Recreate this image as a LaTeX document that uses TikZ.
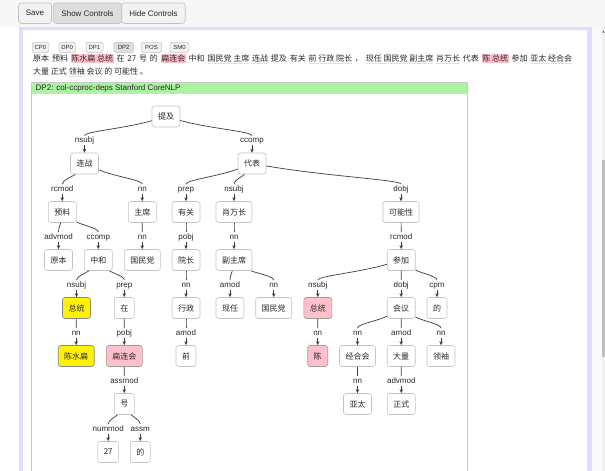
\documentclass[tikz,border=0pt]{standalone}
\usepackage{fontspec}
\setmainfont{Liberation Sans}
\newfontfamily\cjk{Noto Sans CJK SC}
\usetikzlibrary{arrows.meta,calc}

\definecolor{lav}{RGB}{221,221,255}
\definecolor{hdr}{RGB}{170,243,160}
\definecolor{pinkhl}{RGB}{255,192,203}
\definecolor{edgec}{RGB}{60,60,60}
\definecolor{boxb}{RGB}{195,195,195}
\definecolor{txt}{RGB}{40,40,40}
\definecolor{topbg}{RGB}{247,247,247}
\definecolor{btn}{RGB}{242,242,242}
\definecolor{btnon}{RGB}{222,222,222}
\definecolor{panelb}{RGB}{200,200,200}
\definecolor{ulc}{RGB}{225,225,225}

\newcommand{\hlw}[1]{{\setlength{\fboxsep}{0.6pt}\colorbox{pinkhl}{#1}}}
\newcommand{\ulg}[1]{{\setbox0\hbox{#1}\rlap{\color{ulc}\rule[-2.2pt]{\wd0}{1pt}}\box0}}
\newcommand{\dep}[4]{%
  \node[rel] (#3) at ($(#2.center)+(0,-23)$) {#4};
  \draw[arc] (#1) .. controls ($(#1.center)!0.5!(#3.center)$) and ($(#3.center)+(0,-9)$) .. (#3);
  \draw[arr] (#3) -- (#2);
}

\tikzset{
  tok/.style={draw=boxb, rounded corners=2.5pt, fill=white, font=\cjk\fontsize{8}{9}\selectfont,
    text=txt, minimum height=21pt, inner xsep=6pt, inner ysep=0pt, line width=0.6pt},
  tokY/.style={tok, fill=yellow, draw=boxb!70!black},
  tokP/.style={tok, fill=pinkhl, draw=boxb!80!black},
  rel/.style={font=\fontsize{8}{9}\selectfont, text=txt, inner sep=1pt, text height=5.8pt, text depth=1.6pt},
  arc/.style={draw=edgec, line width=0.7pt},
  arr/.style={arc, -{Stealth[length=4pt,width=3.4pt]}},
  bigbtn/.style={draw=boxb, fill=btn, rounded corners=3pt, font=\fontsize{8}{9}\selectfont, text=txt,
    minimum height=20.5pt, inner sep=0pt, line width=0.6pt},
  smbtn/.style={draw=boxb, fill=btn, rounded corners=1.5pt, font=\fontsize{6}{7}\selectfont, text=txt,
    minimum height=10pt, inner sep=0pt, line width=0.5pt},
}

\begin{document}
\begin{tikzpicture}[x=1pt,y=-1pt]
\useasboundingbox (0,0) rectangle (605,471);
\fill[white] (0,0) rectangle (605,471);
% top bar
\fill[topbg] (0,0) rectangle (605,27);
\node[bigbtn, minimum width=33pt] (save) at (35,13.2) {Save};
\node[bigbtn, fill=btnon, minimum width=68.5pt] (show) at (87.5,13.2) {Show Controls};
\node[bigbtn, minimum width=63.5pt] (hide) at (153.5,13.2) {Hide Controls};
% lavender frame
\fill[lav] (19,27) rectangle (592,471);
\fill[white] (23,29.5) rectangle (587,471);
\fill[topbg!60!white] (592,27) rectangle (605,471);
% scrollbar
\fill[black!6] (601.7,27) rectangle (605,471);
\fill[black!25] (602,160) rectangle (605,357);
\fill[black!60] (602.3,32.5) -- (603.4,30.5) -- (604.5,32.5) -- cycle;
% small buttons
\node[smbtn, minimum width=16.5pt] (cp0) at (40.5,47.3) {CP0};
\node[smbtn, minimum width=16.5pt] (dp0) at (67.2,47.3) {DP0};
\node[smbtn, minimum width=17pt] (dp1) at (94.5,47.3) {DP1};
\node[smbtn, fill=btnon, minimum width=19.5pt] (dp2) at (123.7,47.3) {DP2};
\node[smbtn, minimum width=20pt] (pos) at (151.5,47.3) {POS};
\node[smbtn, minimum width=19pt] (sm0) at (179.5,47.3) {SM0};
% sentence
\node[anchor=base west, inner sep=0pt, font=\cjk\fontsize{8}{9}\selectfont, text=txt] (s1) at (33,61.3)
 {\makebox[539pt][s]{原本 预料 \hlw{陈水扁 总统} 在 27 号 的 \hlw{扁连会} 中和 \ulg{国民党 主席} \ulg{连战} 提及 有关 \ulg{前 行政 院长} ， \ulg{现任 国民党 副主席} \ulg{肖万长} 代表 \hlw{陈 总统} 参加 \ulg{亚太 经合会}}};
\node[anchor=base west, inner sep=0pt, font=\cjk\fontsize{8}{9}\selectfont, text=txt] (s2) at (33,74.7)
 {大量 正式 \ulg{领袖} 会议 的 可能性 。};
% panel
\fill[white] (31.5,82.5) rectangle (467.5,471);
\fill[hdr] (31.5,82.5) rectangle (467.5,93.5);
\draw[panelb, line width=0.6pt] (31.5,475) -- (31.5,82.5) -- (467.5,82.5) -- (467.5,475);
\draw[panelb!70!white, line width=0.5pt] (31.5,93.5) -- (467.5,93.5);
\node[anchor=west, inner sep=0pt, font=\fontsize{8}{9}\selectfont, text=txt] (hd) at (35.5,88.2)
 {DP2: col-ccproc-deps Stanford CoreNLP};

% tree nodes
\node[tok] (n1) at (166,116.5) {提及};
\node[tok] (n2) at (84.5,163.5) {连战};
\node[tok] (n3) at (252,163.5) {代表};
\node[tok] (n4) at (62.3,212) {预料};
\node[tok] (n5) at (142.3,212) {主席};
\node[tok] (n6) at (186,212) {有关};
\node[tok] (n7) at (234,212) {肖万长};
\node[tok] (n8) at (401,212) {可能性};
\node[tok] (n9) at (58.5,260) {原本};
\node[tok] (n10) at (98.3,260) {中和};
\node[tok] (n11) at (142.3,260) {国民党};
\node[tok] (n12) at (186,260) {院长};
\node[tok] (n13) at (234,260) {副主席};
\node[tok] (n14) at (401.2,260) {参加};
\node[tokY] (n15) at (76.5,308) {总统};
\node[tok] (n16) at (124.3,308) {在};
\node[tok] (n17) at (186,308) {行政};
\node[tok] (n18) at (230,308) {现任};
\node[tok] (n19) at (273.7,308) {国民党};
\node[tokP] (n20) at (317.8,308) {总统};
\node[tok] (n21) at (401.2,308) {会议};
\node[tok] (n22) at (437,308) {的};
\node[tokY] (n23) at (76.2,356) {陈水扁};
\node[tokP] (n24) at (124.3,356) {扁连会};
\node[tok] (n25) at (186,356) {前};
\node[tokP] (n26) at (317.7,356) {陈};
\node[tok] (n27) at (357.5,356) {经合会};
\node[tok] (n28) at (401.2,356) {大量};
\node[tok] (n29) at (441,356) {领袖};
\node[tok] (n30) at (124.3,404) {号};
\node[tok] (n31) at (357.5,404) {亚太};
\node[tok] (n32) at (401.3,404) {正式};
\node[tok] (n33) at (108.2,452) {27};
\node[tok] (n34) at (140.3,452) {的};

% dependencies
\dep{n1}{n2}{l2}{nsubj}
\dep{n1}{n3}{l3}{ccomp}
\dep{n2}{n4}{l4}{rcmod}
\dep{n2}{n5}{l5}{nn}
\dep{n3}{n6}{l6}{prep}
\dep{n3}{n7}{l7}{nsubj}
\dep{n3}{n8}{l8}{dobj}
\dep{n4}{n9}{l9}{advmod}
\dep{n4}{n10}{l10}{ccomp}
\dep{n5}{n11}{l11}{nn}
\dep{n6}{n12}{l12}{pobj}
\dep{n7}{n13}{l13}{nn}
\dep{n8}{n14}{l14}{rcmod}
\dep{n10}{n15}{l15}{nsubj}
\dep{n10}{n16}{l16}{prep}
\dep{n12}{n17}{l17}{nn}
\dep{n13}{n18}{l18}{amod}
\dep{n13}{n19}{l19}{nn}
\dep{n14}{n20}{l20}{nsubj}
\dep{n14}{n21}{l21}{dobj}
\dep{n14}{n22}{l22}{cpm}
\dep{n15}{n23}{l23}{nn}
\dep{n16}{n24}{l24}{pobj}
\dep{n17}{n25}{l25}{amod}
\dep{n20}{n26}{l26}{nn}
\dep{n21}{n27}{l27}{nn}
\dep{n21}{n28}{l28}{amod}
\dep{n21}{n29}{l29}{nn}
\dep{n24}{n30}{l30}{assmod}
\dep{n27}{n31}{l31}{nn}
\dep{n28}{n32}{l32}{advmod}
\dep{n30}{n33}{l33}{nummod}
\dep{n30}{n34}{l34}{assm}
\end{tikzpicture}
\end{document}
